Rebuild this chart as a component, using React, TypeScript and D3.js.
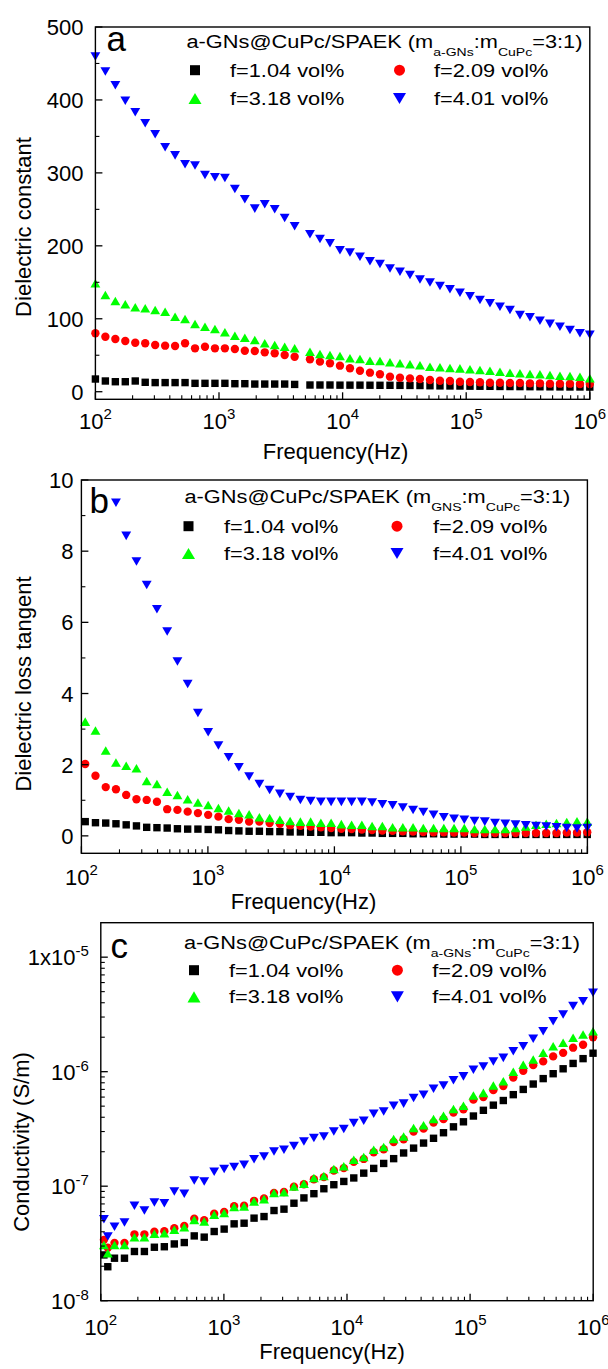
import React from 'react';
import * as d3 from 'd3';

const W = 608;
const H = 1369;
const FONT = '"Liberation Sans", Arial, Helvetica, sans-serif';

// ---------- data ----------
const legendNames = ['f=1.04 vol%', 'f=2.09 vol%', 'f=3.18 vol%', 'f=4.01 vol%'];
const seriesColors = ['#000000', '#ff0000', '#00ff00', '#0000ff'];
const seriesShapes = ['square', 'circle', 'up', 'down'];
const xTickExps = ['2', '3', '4', '5', '6'];
const xTickValues = [1e2, 1e3, 1e4, 1e5, 1e6];

// panel a frequencies (two sweeps, small gap near 5 kHz)
const freqA = [100, 120.4, 145, 174.5, 210.1, 252.9, 304.5, 366.6, 441.3, 531.3, 639.7, 770.2, 927.2, 1116, 1344, 1618, 1948, 2345, 2823, 3399, 4093,
  5445, 6559, 7904, 9521, 11470, 13820, 16650, 20060, 24170, 29120, 35080, 42260, 50920, 61340, 73900, 89030, 107300, 129200, 155700, 187600,
  226000, 272200, 328000, 395100, 476000, 573500, 690900, 832400, 1000000];

const aBlack = [17.4, 14.7, 13.7, 13.7, 14.7, 12.9, 12.5, 12.5, 12.5, 12.5, 11.5, 11.5, 11.5, 11.5, 11, 11, 10.5, 10.5, 10.5, 10.5, 10,
  9.2, 9.2, 9.2, 9, 9, 9, 8.9, 8.8, 8.8, 8.7, 8.6, 8.5, 8.2, 8, 7.9, 7.8, 7.6, 7.5, 7.4, 7.2, 7.1, 7, 6.9, 6.8, 6.7, 6.6, 6.5, 6.5, 6.4];
const aRed = [80.1, 75.4, 72.3, 69.5, 67.2, 66.4, 64, 63.1, 62.7, 66.4, 59.5, 61.7, 59.5, 59.5, 58.6, 56.2, 55.8, 54, 52.7, 50.3, 48,
  44.4, 41.2, 39, 35.7, 32.1, 28.8, 26.1, 23.9, 20.6, 19.2, 18.3, 17.4, 16, 15.1, 14.7, 13.7, 13.3, 12.9, 12.3, 12.3, 12, 12, 11.5, 11.5, 11, 11, 11, 10.5, 10.5];
const aGreen = [148.7, 132.6, 124.4, 119.9, 115.8, 114.4, 112, 109.7, 102.9, 99.7, 92.9, 89.2, 86, 81.5, 76.8, 74, 70.9, 66.4, 64, 61.7, 59.5,
  54.9, 51.7, 50.3, 49, 45.8, 44.9, 42.5, 42.1, 40.3, 38.9, 37.5, 36.2, 34.3, 33.4, 32.5, 32, 30.7, 29.8, 28.8, 27.4, 26, 25.2, 24.3, 24, 23, 22, 21.5, 20.6, 18.4];
const aBlue = [459.5, 439, 420, 399, 383, 368, 353, 335, 324, 312, 310, 297, 294, 293, 278, 264, 251, 257, 250, 238, 227,
  216, 209.5, 203.5, 194, 190.7, 185, 179, 175, 169, 164.6, 160, 154, 149.6, 145, 140.4, 135.8, 131, 125.8, 121.3, 116.6, 112, 105, 102, 97.4, 93, 89, 84.6, 80, 78];

// panels b and c frequencies
const freqB = [107.2, 129.2, 155.7, 187.6, 226.0, 272.4, 328.2, 395.5, 476.6, 574.3, 692.0, 833.9, 1005, 1211, 1459, 1758, 2118, 2553, 3076, 3707,
  4467, 5383, 6486, 7816, 9419, 11350, 13677, 16481, 19860, 23932, 28838, 34750, 41874, 50458, 60802, 73266, 88286, 106385, 128194, 154474,
  186141, 224300, 270281, 325689, 392456, 472910, 569857, 686678, 827447, 997074];

const bBlack = [0.4, 0.37, 0.36, 0.34, 0.31, 0.28, 0.24, 0.23, 0.22, 0.2, 0.19, 0.19, 0.18, 0.17, 0.15, 0.14, 0.13, 0.13, 0.12, 0.12,
  0.11, 0.11, 0.1, 0.1, 0.09, 0.09, 0.09, 0.08, 0.08, 0.07, 0.07, 0.07, 0.06, 0.06, 0.06, 0.05, 0.05, 0.05, 0.05, 0.04,
  0.04, 0.04, 0.04, 0.04, 0.04, 0.04, 0.04, 0.04, 0.04, 0.04];
const bRed = [2.02, 1.69, 1.37, 1.31, 1.15, 1.03, 1.01, 0.96, 0.75, 0.73, 0.68, 0.64, 0.59, 0.54, 0.47, 0.45, 0.4, 0.4, 0.36, 0.34,
  0.3, 0.28, 0.26, 0.24, 0.22, 0.2, 0.19, 0.18, 0.16, 0.15, 0.14, 0.13, 0.12, 0.11, 0.1, 0.1, 0.09, 0.09, 0.08, 0.08,
  0.08, 0.08, 0.08, 0.08, 0.08, 0.08, 0.08, 0.09, 0.09, 0.1];
const bGreen = [3.21, 2.96, 2.4, 2.06, 1.97, 1.9, 1.54, 1.46, 1.24, 1.15, 1.03, 0.94, 0.87, 0.78, 0.71, 0.64, 0.61, 0.52, 0.5, 0.45,
  0.42, 0.4, 0.4, 0.37, 0.37, 0.33, 0.31, 0.31, 0.28, 0.28, 0.24, 0.24, 0.24, 0.22, 0.22, 0.22, 0.22, 0.22, 0.19, 0.19,
  0.19, 0.19, 0.22, 0.26, 0.31, 0.34, 0.36, 0.39, 0.41, 0.4];
const bBlue = [null, null, null, 9.36, 8.43, 7.71, 7.05, 6.37, 5.74, 4.9, 4.27, 3.45, 2.91, 2.54, 2.21, 1.93, 1.67, 1.46, 1.29, 1.18,
  1.09, 1.01, 0.98, 0.96, 0.955, 0.955, 0.955, 0.955, 0.94, 0.89, 0.86, 0.8, 0.73, 0.67, 0.59, 0.52, 0.48, 0.45, 0.42, 0.4,
  0.36, 0.34, 0.32, 0.3, 0.28, 0.26, 0.24, 0.22, 0.21, 0.22];

const freqC = [106, 114, 129.2, 155.7, 187.6, 226.0, 272.4, 328.2, 395.5, 476.6, 574.3, 692.0, 833.9, 1005, 1211, 1459, 1758, 2118, 2553, 3076, 3707,
  4467, 5383, 6486, 7816, 9419, 11350, 13677, 16481, 19860, 23932, 28838, 34750, 41874, 50458, 60802, 73266, 88286, 106385, 128194, 154474,
  186141, 224300, 270281, 325689, 392456, 472910, 569857, 686678, 827447, 997074];

const cBlack = [2.51e-8, 1.98e-8, 2.35e-8, 2.35e-8, 2.69e-8, 2.69e-8, 2.93e-8, 2.96e-8, 3.13e-8, 3.22e-8, 3.68e-8, 3.59e-8, 4.02e-8, 4.22e-8, 4.69e-8, 4.75e-8,
  5.26e-8, 5.43e-8, 6.13e-8, 6.3e-8, 7.1e-8, 7.9e-8, 8.6e-8, 9.5e-8, 1.03e-7, 1.1e-7, 1.18e-7, 1.3e-7, 1.43e-7, 1.58e-7, 1.74e-7, 1.95e-7,
  2.15e-7, 2.38e-7, 2.62e-7, 2.93e-7, 3.3e-7, 3.65e-7, 4.1e-7, 4.6e-7, 5.1e-7, 5.6e-7, 6.3e-7, 7.0e-7, 7.8e-7, 8.7e-7, 9.6e-7, 1.06e-6, 1.18e-6, 1.3e-6, 1.45e-6];
const cRed = [3.4e-8, 2.9e-8, 3.2e-8, 3.2e-8, 3.8e-8, 3.8e-8, 4.0e-8, 4.05e-8, 4.3e-8, 4.5e-8, 5.2e-8, 5.05e-8, 5.75e-8, 5.95e-8, 6.7e-8, 6.75e-8,
  7.45e-8, 7.8e-8, 8.75e-8, 8.9e-8, 9.9e-8, 1.04e-7, 1.15e-7, 1.2e-7, 1.37e-7, 1.44e-7, 1.63e-7, 1.73e-7, 1.98e-7, 2.1e-7, 2.43e-7, 2.57e-7,
  3.0e-7, 3.18e-7, 3.6e-7, 3.85e-7, 4.4e-7, 4.7e-7, 5.7e-7, 6.0e-7, 6.9e-7, 7.5e-7, 8.9e-7, 1.02e-6, 1.14e-6, 1.23e-6, 1.36e-6, 1.46e-6, 1.62e-6, 1.72e-6, 2.0e-6];
const cGreen = [3.07e-8, 2.6e-8, 3.07e-8, 3.07e-8, 3.59e-8, 3.59e-8, 3.84e-8, 3.88e-8, 4.16e-8, 4.39e-8, 5.08e-8, 4.91e-8, 5.62e-8, 5.82e-8, 6.57e-8, 6.64e-8,
  7.34e-8, 7.71e-8, 8.7e-8, 8.87e-8, 9.93e-8, 1.05e-7, 1.18e-7, 1.23e-7, 1.41e-7, 1.49e-7, 1.7e-7, 1.8e-7, 2.08e-7, 2.2e-7, 2.58e-7, 2.72e-7,
  3.22e-7, 3.4e-7, 3.86e-7, 4.13e-7, 4.73e-7, 5.05e-7, 6.18e-7, 6.53e-7, 7.56e-7, 8.24e-7, 1.0e-6, 1.15e-6, 1.28e-6, 1.46e-6, 1.67e-6, 1.79e-6, 1.98e-6, 2.11e-6, 2.26e-6];
const cBlue = [5.15e-8, 3.63e-8, 4.43e-8, 4.81e-8, 6.74e-8, 6.13e-8, 7.2e-8, 7.1e-8, 9.0e-8, 8.6e-8, 1.12e-7, 1.1e-7, 1.34e-7, 1.41e-7, 1.47e-7, 1.54e-7,
  1.72e-7, 1.82e-7, 2.01e-7, 2.08e-7, 2.24e-7, 2.46e-7, 2.64e-7, 2.72e-7, 3.01e-7, 3.16e-7, 3.57e-7, 3.73e-7, 4.3e-7, 4.5e-7, 5.05e-7, 5.26e-7,
  5.9e-7, 6.3e-7, 7.08e-7, 7.56e-7, 8.4e-7, 9.1e-7, 1.04e-6, 1.11e-6, 1.23e-6, 1.32e-6, 1.51e-6, 1.67e-6, 1.94e-6, 2.26e-6, 2.76e-6, 3.16e-6, 3.74e-6, 4.13e-6, 4.89e-6];

const aYTicks = [0, 100, 200, 300, 400, 500];
const aYMinor = [50, 150, 250, 350, 450];
const bYTicks = [0, 2, 4, 6, 8, 10];
const bYMinor = [1, 3, 5, 7, 9];
const cYTicks = [1e-8, 1e-7, 1e-6, 1e-5];
const cYTickBase = ['10', '10', '10', '1x10'];
const cYTickExp = ['-8', '-7', '-6', '-5'];

// ---------- drawing ----------
type Shape = 'square' | 'circle' | 'up' | 'down';

function Marker({ shape, x, y, s, color }: { shape: string; x: number; y: number; s: number; color: string }) {
  if (shape === 'square') return <rect x={x - s / 2} y={y - s / 2} width={s} height={s} fill={color} />;
  if (shape === 'circle') return <circle cx={x} cy={y} r={s * 0.55} fill={color} />;
  const w = s * 1.3;
  const h = s * 1.12;
  if (shape === 'up') return <path d={`M${x - w / 2},${y + h / 2}L${x + w / 2},${y + h / 2}L${x},${y - h / 2}Z`} fill={color} />;
  return <path d={`M${x - w / 2},${y - h / 2}L${x + w / 2},${y - h / 2}L${x},${y + h / 2}Z`} fill={color} />;
}

interface PanelProps {
  left: number; right: number; top: number; bottom: number;
  logY: boolean; yDomain: [number, number];
  yTicks: number[]; yMinor: number[];
  yTickLabel: (i: number) => React.ReactNode;
  yLabelGap: number;
  freq: number[]; data: (number | null)[][];
  letter: string; letterX: number; letterY: number;
  yTitle: string; yTitleX: number; yTitleY: number;
  xTitleX: number; xTitleY: number; xTickY: number;
  sub: string;
  leg: { titleX: number; titleY: number; s1: number; t1: number; s2: number; t2: number; r1: number; r2: number };
}

function Panel(p: PanelProps) {
  const x = d3.scaleLog().domain([1e2, 1e6]).range([p.left, p.right]);
  const y = p.logY
    ? d3.scaleLog().domain(p.yDomain).range([p.bottom, p.top])
    : d3.scaleLinear().domain(p.yDomain).range([p.bottom, p.top]);
  const xMinor: number[] = [];
  for (let e = 2; e < 6; e++) for (let m = 2; m <= 9; m++) xMinor.push(m * Math.pow(10, e));
  const MAJ = 7, MIN = 4;
  const sx = 1.21;
  const legText = (tx: number, ty: number, txt: string) => (
    <text transform={`translate(${tx},${ty}) scale(${sx},1)`} fontSize={18}>{txt}</text>
  );
  const legRows = [
    { s: p.leg.s1, t: p.leg.t1, r: p.leg.r1, i: 0 },
    { s: p.leg.s2, t: p.leg.t2, r: p.leg.r1, i: 1 },
    { s: p.leg.s1, t: p.leg.t1, r: p.leg.r2, i: 2 },
    { s: p.leg.s2, t: p.leg.t2, r: p.leg.r2, i: 3 },
  ];
  return (
    <g fontFamily={FONT} fill="#000">
      {/* data */}
      {p.data.map((vals, si) => (
        <g key={si}>
          {vals.map((v, i) => (v == null ? null : (
            <Marker key={i} shape={seriesShapes[si]} x={x(p.freq[i])} y={y(v)} s={si === 0 ? 7.4 : 7.6} color={seriesColors[si]} />
          )))}
        </g>
      ))}
      {/* frame */}
      <rect x={p.left} y={p.top} width={p.right - p.left} height={p.bottom - p.top} fill="none" stroke="#000" strokeWidth={1.4} />
      {/* x ticks */}
      {xTickValues.map((v) => <line key={'xM' + v} x1={x(v)} x2={x(v)} y1={p.bottom} y2={p.bottom - MAJ} stroke="#000" strokeWidth={1.3} />)}
      {xMinor.map((v) => <line key={'xm' + v} x1={x(v)} x2={x(v)} y1={p.bottom} y2={p.bottom - MIN} stroke="#000" strokeWidth={1.1} />)}
      {xTickValues.map((v, i) => (
        <text key={'xl' + v} x={x(v)} y={p.xTickY} textAnchor="middle" fontSize={22}>
          10<tspan fontSize={15} dy={-10}>{xTickExps[i]}</tspan>
        </text>
      ))}
      {/* y ticks */}
      {p.yTicks.map((v) => <line key={'yM' + v} x1={p.left} x2={p.left + MAJ} y1={y(v)} y2={y(v)} stroke="#000" strokeWidth={1.3} />)}
      {p.yMinor.map((v) => <line key={'ym' + v} x1={p.left} x2={p.left + MIN} y1={y(v)} y2={y(v)} stroke="#000" strokeWidth={1.1} />)}
      {p.yTicks.map((v, i) => (
        <text key={'yl' + v} x={p.left - p.yLabelGap} y={y(v) + 8} textAnchor="end" fontSize={22}>{p.yTickLabel(i)}</text>
      ))}
      {/* titles */}
      <text x={p.xTitleX} y={p.xTitleY} textAnchor="middle" fontSize={22}>Frequency(Hz)</text>
      <text transform={`translate(${p.yTitleX},${p.yTitleY}) rotate(-90)`} textAnchor="middle" fontSize={22}>{p.yTitle}</text>
      <text x={p.letterX} y={p.letterY} fontSize={35}>{p.letter}</text>
      {/* legend */}
      <text transform={`translate(${p.leg.titleX},${p.leg.titleY}) scale(${sx},1)`} fontSize={18}>
        a-GNs@CuPc/SPAEK (m<tspan fontSize={11.6} dy={8}>{p.sub}</tspan><tspan dy={-8}>:m</tspan>
        <tspan fontSize={11.6} dy={8}>CuPc</tspan><tspan dy={-8}>=3:1)</tspan>
      </text>
      {legRows.map((r) => (
        <g key={'lg' + r.i}>
          <Marker shape={seriesShapes[r.i]} x={r.s} y={r.r - 6.5} s={r.i === 0 ? 10 : 10} color={seriesColors[r.i]} />
          {legText(r.t, r.r, legendNames[r.i])}
        </g>
      ))}
    </g>
  );
}

export default function App() {
  const sup = (base: string, e: string) => (<>{base}<tspan fontSize={15} dy={-9}>{e}</tspan></>);
  return (
    <svg width={W} height={H} viewBox={`0 0 ${W} ${H}`} style={{ position: 'absolute', left: 0, top: 0, background: '#fff' }}>
      <rect x={0} y={0} width={W} height={H} fill="#fff" />
      <Panel
        left={95.4} right={589.8} top={27} bottom={399.3}
        logY={false} yDomain={[-10.4, 500]} yTicks={aYTicks} yMinor={aYMinor}
        yTickLabel={(i) => String(aYTicks[i])} yLabelGap={12}
        freq={freqA} data={[aBlack, aRed, aGreen, aBlue]}
        letter="a" letterX={106.5} letterY={51}
        yTitle="Dielectric constant" yTitleX={31} yTitleY={227}
        xTitleX={335.5} xTitleY={459} xTickY={429}
        sub="a-GNs"
        leg={{ titleX: 186.5, titleY: 48, s1: 195, t1: 230, s2: 399.5, t2: 434, r1: 76.7, r2: 105 }}
      />
      <Panel
        left={81.4} right={587.4} top={480} bottom={853.3}
        logY={false} yDomain={[-0.49, 10]} yTicks={bYTicks} yMinor={bYMinor}
        yTickLabel={(i) => String(bYTicks[i])} yLabelGap={8}
        freq={freqB} data={[bBlack, bRed, bGreen, bBlue]}
        letter="b" letterX={89.5} letterY={513}
        yTitle="Dielectric loss tangent" yTitleX={31} yTitleY={684}
        xTitleX={303.5} xTitleY={909} xTickY={885}
        sub="GNS"
        leg={{ titleX: 184.5, titleY: 503, s1: 188.5, t1: 224, s2: 397, t2: 433, r1: 532.7, r2: 560 }}
      />
      <Panel
        left={100.8} right={593.2} top={922.7} bottom={1300.7}
        logY={true} yDomain={[1e-8, 2e-5]} yTicks={cYTicks}
        yMinor={[2e-8, 3e-8, 4e-8, 5e-8, 6e-8, 7e-8, 8e-8, 9e-8, 2e-7, 3e-7, 4e-7, 5e-7, 6e-7, 7e-7, 8e-7, 9e-7, 2e-6, 3e-6, 4e-6, 5e-6, 6e-6, 7e-6, 8e-6, 9e-6]}
        yTickLabel={(i) => sup(cYTickBase[i], cYTickExp[i])} yLabelGap={12}
        freq={freqC} data={[cBlack, cRed, cGreen, cBlue]}
        letter="c" letterX={110.5} letterY={958}
        yTitle="Conductivity (S/m)" yTitleX={29} yTitleY={1142}
        xTitleX={332} xTitleY={1359} xTickY={1335}
        sub="a-GNs"
        leg={{ titleX: 184, titleY: 948.5, s1: 194, t1: 229, s2: 397.4, t2: 432.3, r1: 976.7, r2: 1003.3 }}
      />
    </svg>
  );
}
